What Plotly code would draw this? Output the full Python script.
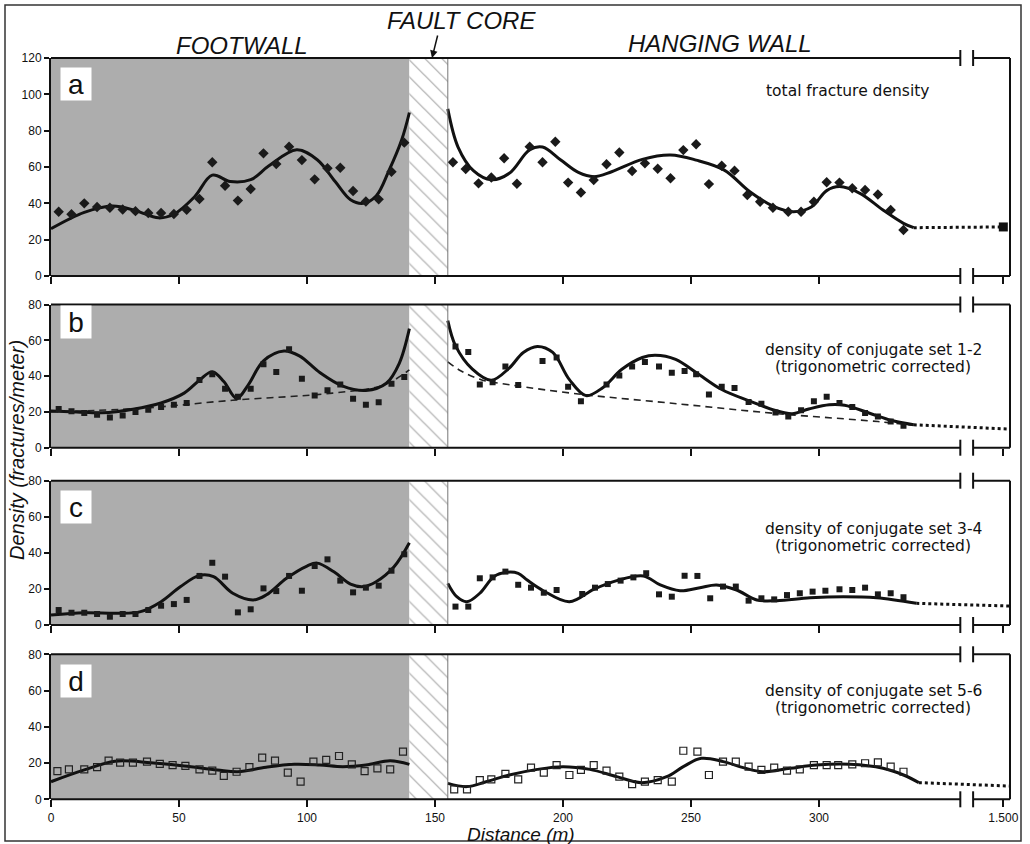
import plotly.graph_objects as go

W, H = 1030, 844
X0_PX, PX_PER_M, X_RIGHT_PX = 51, 2.56, 1010
FONT = "Liberation Sans, Arial, sans-serif"
LABEL_FONT = "DejaVu Sans, Verdana, sans-serif"

# ---------------- data ----------------
FAULT_CORE = [140, 155]          # m
AXIS_BREAK = [355.2, 360.2]      # m (position of the // break)
TICKVALS = [0, 50, 100, 150, 200, 250, 300, 372]
TICKTEXT = ["0", "50", "100", "150", "200", "250", "300", "1.500"]

# panel a: total fracture density
A_FW_PX = [3, 8, 13, 18, 23, 28, 33, 38, 43, 48, 53, 58, 63, 68, 73, 78, 83, 88, 93, 98, 103, 108, 113, 118, 123, 128, 133, 138]
A_FW_PY = [35.4, 34, 40, 38, 37.6, 36.6, 35.7, 34.7, 34.7, 34.1, 36.4, 42.4, 62.6, 49.7, 41.5, 47.9, 67.5, 61.6, 71.2, 63.8, 53.2, 59.3, 59.6, 46.8, 41, 42.2, 57.4, 73.4]
A_HW_PX = [157, 162, 167, 172, 177, 182, 187, 192, 197, 202, 207, 212, 217, 222, 227, 232, 237, 242, 247, 252, 257, 262, 267, 272, 277, 282, 288, 293, 298, 303, 308, 313, 318, 323, 328, 333]
A_HW_PY = [62.6, 58.9, 51, 54.2, 64.8, 50.8, 71.2, 62.6, 73.9, 51.4, 46, 52.8, 61.5, 68, 57.8, 62, 59, 53.8, 69.3, 72.5, 50.6, 60.7, 58, 44.6, 40.9, 37.6, 35.4, 35.4, 40.9, 51.6, 51.4, 48.3, 47.3, 44.9, 36.3, 25.3]
A_FW_CX = [0, 13, 24, 33, 42, 48, 56, 63, 70, 78, 85, 96, 104, 111, 117, 122, 127, 132, 137, 140]
A_FW_CY = [26, 35, 38.5, 36, 32, 34, 43.5, 55.5, 52, 53, 60.5, 69.5, 64, 52, 42, 40, 44, 58, 75, 90]
A_HW_CX = [155, 159, 165, 172, 179, 187, 192, 199, 206, 212, 219, 231, 242, 252, 263, 273, 282, 290, 297, 303, 308, 316, 325, 333, 337]
A_HW_CY = [92, 71, 58, 53, 56.5, 69.5, 71, 64, 57, 54.7, 57.4, 64.2, 66.6, 63.8, 58.3, 46.4, 38.5, 35.4, 38, 47, 49.2, 45.5, 36.3, 29, 26.6]
A_EXT_X = [337, 372]
A_EXT_Y = [26.6, 27]

# panel b: conjugate set 1-2
B_FW_PX = [3, 8, 13, 18, 23, 28, 33, 38, 43, 48, 53, 58, 63, 68, 73, 78, 83, 88, 93, 98, 103, 108, 113, 118, 123, 128, 133, 138]
B_FW_PY = [21.6, 20.3, 19.4, 18.4, 16.9, 18, 19.9, 21.2, 22.7, 24, 25, 37.8, 41, 32.9, 28.4, 33, 46.6, 42.3, 55, 38.5, 29.1, 32.1, 35.3, 27.3, 24, 25.4, 35.7, 39.5]
B_HW_PX = [158, 163, 167.5, 172.5, 177.5, 182.5, 192, 197.5, 202, 207, 217, 222, 227, 232, 237.5, 242.5, 247.5, 252, 257, 262, 267, 272.5, 277.5, 283, 288, 293, 298, 303, 308, 313, 318, 323, 328, 333]
B_HW_PY = [56.6, 53.5, 35.3, 36.6, 45.3, 35, 48.5, 50.4, 34, 25.9, 35.3, 40.4, 45.3, 47.9, 45.3, 41.9, 42.8, 41, 29.7, 34, 33.4, 25.5, 24.6, 19.7, 17.5, 20.9, 25.9, 28.4, 25, 22.8, 19.4, 17.5, 14.6, 12.2]
B_FW_CX = [0, 10, 20, 32, 43, 52, 58, 63, 67.5, 72.5, 77, 83, 91, 97, 105, 114, 123, 131, 136, 140]
B_FW_CY = [20.5, 20, 19.5, 21.5, 25, 30.5, 37.7, 42.5, 37, 27.5, 35, 48.5, 54, 51.3, 42, 34.4, 32, 36, 47, 66.5]
B_HW_CX = [155, 158, 164.5, 172, 179, 184.5, 190, 196, 202.5, 209, 215.5, 223, 231, 236, 244, 252, 262, 273, 283, 289.5, 296, 304, 310, 319.5, 328.5, 337]
B_HW_CY = [71, 57, 44, 37.7, 44.5, 53.2, 56.6, 53.2, 38, 29.1, 33.5, 43.8, 50.4, 51.7, 49.4, 42, 32.5, 26, 20.8, 19, 21.6, 24, 23.7, 19.4, 15.2, 12.8]
B_FW_TX = [0, 35, 71, 110, 130, 140]
B_FW_TY = [20, 22, 26.5, 30.5, 35, 43.5]
B_HW_TX = [155, 160, 168, 180, 206, 245, 284, 323, 337]
B_HW_TY = [48, 43, 38, 35, 30, 24.5, 19, 14.6, 12.5]
B_EXT_X = [337, 374.6]
B_EXT_Y = [12.8, 10.4]

# panel c: conjugate set 3-4
C_FW_PX = [3, 8, 13, 18, 23, 28, 33, 38, 43, 48, 53, 58, 63, 68, 73, 78, 83, 88, 93, 98, 103, 108, 113, 118, 123, 128, 133, 138]
C_FW_PY = [8.3, 6.8, 6.8, 6.1, 4.6, 6.1, 6.1, 8.3, 10.7, 11.6, 13.9, 27.2, 34.5, 26.8, 7, 8.7, 20.3, 18.8, 27.2, 19, 32.7, 36.4, 24.6, 18.1, 20.7, 21.8, 30.1, 39.2]
C_HW_PX = [158, 163, 167.5, 172.5, 177.5, 182.5, 187.5, 192.5, 197.5, 207.5, 212.5, 217.5, 222.5, 227.5, 232.5, 237.5, 242.5, 247.5, 252.5, 257.5, 262.5, 267.5, 272.5, 277.5, 282.5, 287.5, 292.5, 297.5, 302.5, 308, 313, 318, 323, 328, 333]
C_HW_PY = [10.2, 10.2, 25.9, 26.4, 29.6, 22.3, 20.7, 17.9, 19.4, 17.2, 20.7, 22.7, 24.6, 26.4, 28.7, 17, 15.7, 27.3, 27.2, 14.8, 21.3, 21.3, 13.5, 14.8, 14.2, 16.6, 17.6, 18.5, 19, 19.8, 19.4, 20.7, 17, 17.6, 15.4]
C_FW_CX = [0, 13, 26, 35, 43, 50.5, 58, 63.5, 71, 79, 84, 92, 100, 104, 110.5, 117, 122, 127, 134, 140]
C_FW_CY = [5.5, 6.8, 6.5, 7.4, 12.9, 21.2, 27.5, 26.8, 17.6, 13.9, 16.6, 25.9, 32.7, 34.3, 29.5, 22.7, 21.3, 24, 32.3, 45.6]
C_HW_CX = [155, 158.5, 162.5, 167.5, 173, 178, 182.5, 186, 192.3, 202.5, 212, 221, 231.4, 238, 245.7, 253.5, 260, 267.8, 275.7, 283.5, 296.5, 309.5, 322.5, 338]
C_HW_CY = [23.1, 15.7, 12.9, 17.6, 26.8, 29.2, 28.6, 24.9, 19, 12.9, 19.8, 24.6, 27.2, 22.2, 19, 20.7, 22.2, 19.4, 13.9, 13.5, 15.1, 15.7, 15.1, 12]
C_EXT_X = [338, 374.6]
C_EXT_Y = [12, 10.5]

# panel d: conjugate set 5-6
D_FW_PX = [2.5, 7, 13, 18, 22.5, 27, 32, 37.5, 42.5, 47.5, 52.5, 58, 63, 67.5, 72.5, 77.5, 82.5, 87.5, 92.5, 97.5, 102.5, 107.5, 112.5, 117.5, 122.5, 127.5, 132.5, 137.5]
D_FW_PY = [15.6, 16.5, 16.5, 17.7, 21.3, 20.2, 20.2, 20.8, 19.5, 18.9, 18.4, 16.5, 15.8, 12.9, 15.2, 17.7, 23, 21.3, 14.7, 9.7, 20.8, 21.7, 23.9, 19.3, 15.6, 17.1, 16.5, 26.3]
D_HW_PX = [157.5, 162.5, 167.5, 172, 177.5, 182.5, 187.5, 192.5, 197.5, 202.5, 207, 212, 217, 222, 227, 232, 237, 242.5, 247, 252.5, 257, 262.5, 267.5, 272.5, 277.5, 282.5, 287.5, 292.5, 298, 303, 307.5, 313, 318, 323, 328, 333]
D_HW_PY = [5.5, 5.5, 10.6, 11, 14, 11, 17.5, 14.7, 18.9, 13.4, 16.2, 18.9, 15.8, 12.5, 8.4, 9.7, 10.6, 9.7, 26.8, 26.3, 13.4, 20.8, 20.8, 18, 16.2, 17.5, 15.8, 16.5, 18.9, 18.9, 18.9, 19.3, 19.9, 20.4, 18, 15.2]
D_FW_CX = [0, 13, 25, 39, 52, 65, 73, 84, 95, 105, 114, 123, 132.5, 140]
D_FW_CY = [9.7, 16.2, 21, 20.2, 18.4, 16.2, 15.2, 17.7, 19.3, 18.9, 18, 18.9, 21.3, 19.3]
D_HW_CX = [155, 162.5, 170, 179, 190, 200, 210.5, 221, 230.7, 240.5, 247, 254, 262.6, 270.4, 278, 288.7, 299, 312, 325, 333, 339]
D_HW_CY = [8.8, 7, 9.7, 13.4, 16.5, 18, 16.5, 12.5, 9.2, 12.5, 18, 22.6, 20.8, 17.5, 15.2, 17.1, 18.9, 19.3, 17.1, 13.4, 9.2]
D_EXT_X = [339, 374.6]
D_EXT_Y = [9.2, 7.3]

PANEL_LETTERS = ["a", "b", "c", "d"]
PANEL_LABELS = [["total fracture density"],
                ["density of conjugate set 1-2", "(trigonometric corrected)"],
                ["density of conjugate set 3-4", "(trigonometric corrected)"],
                ["density of conjugate set 5-6", "(trigonometric corrected)"]]
Y_MAX = [120, 80, 80, 80]
Y_TICKS = [[0, 20, 40, 60, 80, 100, 120], [0, 20, 40, 60, 80], [0, 20, 40, 60, 80], [0, 20, 40, 60, 80]]

# ---------------- layout geometry (pixels) ----------------
PANEL_PX = [(58, 276), (304.5, 447.7), (480.7, 625), (654.3, 799.3)]
LETTER_PX = [(76, 84), (76, 322), (76, 507), (76, 681)]
LABEL_PX = [[(847, 91)], [(873, 350), (873, 367)], [(873, 529), (873, 546)], [(873, 691), (873, 708)]]

def fx(v):
    return (X0_PX + v * PX_PER_M) / W

def fy(ypx):
    return 1 - ypx / H

X_MAX = (X_RIGHT_PX - X0_PX) / PX_PER_M

panels = [
    dict(fw=(A_FW_PX, A_FW_PY), hw=(A_HW_PX, A_HW_PY), cfw=(A_FW_CX, A_FW_CY), chw=(A_HW_CX, A_HW_CY),
         ext=(A_EXT_X, A_EXT_Y), marker=dict(symbol="diamond", size=8, color="#1a1a1a")),
    dict(fw=(B_FW_PX, B_FW_PY), hw=(B_HW_PX, B_HW_PY), cfw=(B_FW_CX, B_FW_CY), chw=(B_HW_CX, B_HW_CY),
         ext=(B_EXT_X, B_EXT_Y), marker=dict(symbol="square", size=6, color="#1a1a1a"),
         trend=[(B_FW_TX, B_FW_TY), (B_HW_TX, B_HW_TY)]),
    dict(fw=(C_FW_PX, C_FW_PY), hw=(C_HW_PX, C_HW_PY), cfw=(C_FW_CX, C_FW_CY), chw=(C_HW_CX, C_HW_CY),
         ext=(C_EXT_X, C_EXT_Y), marker=dict(symbol="square", size=6, color="#1a1a1a")),
    dict(fw=(D_FW_PX, D_FW_PY), hw=(D_HW_PX, D_HW_PY), cfw=(D_FW_CX, D_FW_CY), chw=(D_HW_CX, D_HW_CY),
         ext=(D_EXT_X, D_EXT_Y), marker=dict(symbol="square-open", size=7, color="#222", line=dict(width=1.2, color="#222"))),
]

fig = go.Figure()
shapes, annotations = [], []
layout = {}

def text_ann(x_px, y_px, text, size, family=FONT, **kw):
    d = dict(xref="paper", yref="paper", x=x_px / W, y=fy(y_px), text=text, showarrow=False,
             xanchor="center", yanchor="middle", font=dict(family=family, size=size, color="#111"))
    d.update(kw)
    return d

for k, p in enumerate(panels):
    sfx = "" if k == 0 else str(k + 1)
    xa, ya = "x" + sfx, "y" + sfx
    top, bot = PANEL_PX[k]
    ymax = Y_MAX[k]

    # fault core hatch
    fig.add_trace(go.Bar(x=[(FAULT_CORE[0] + FAULT_CORE[1]) / 2], y=[ymax], base=0,
                         width=[FAULT_CORE[1] - FAULT_CORE[0]], xaxis=xa, yaxis=ya,
                         marker=dict(color="white", line=dict(width=0),
                                     pattern=dict(shape="\\", fgcolor="#555", bgcolor="white", size=12, solidity=0.1)),
                         showlegend=False, hoverinfo="skip"))
    # trend (dashed) lines
    for tx, ty in p.get("trend", []):
        fig.add_trace(go.Scatter(x=tx, y=ty, mode="lines", xaxis=xa, yaxis=ya, showlegend=False,
                                 line=dict(color="#222", width=1.6, dash="7px,5px", shape="spline", smoothing=1.0)))
    # fitted curves
    for cx, cy in (p["cfw"], p["chw"]):
        fig.add_trace(go.Scatter(x=cx, y=cy, mode="lines", xaxis=xa, yaxis=ya, showlegend=False,
                                 line=dict(color="#111", width=3, shape="spline", smoothing=1.0)))
    # dotted extension
    fig.add_trace(go.Scatter(x=p["ext"][0], y=p["ext"][1], mode="lines", xaxis=xa, yaxis=ya, showlegend=False,
                             line=dict(color="#111", width=3, dash="dot")))
    if k == 0:
        fig.add_trace(go.Scatter(x=[p["ext"][0][-1]], y=[p["ext"][1][-1]], mode="markers", xaxis=xa, yaxis=ya,
                                 showlegend=False, marker=dict(symbol="square", size=9, color="#111")))
    # measured points
    for px_, py_ in (p["fw"], p["hw"]):
        fig.add_trace(go.Scatter(x=px_, y=py_, mode="markers", xaxis=xa, yaxis=ya, showlegend=False,
                                 marker=p["marker"]))

    layout["xaxis" + sfx] = dict(domain=[X0_PX / W, X_RIGHT_PX / W], range=[0, X_MAX], anchor=ya,
                                 showline=False, showgrid=False, zeroline=False, automargin=False,
                                 ticks="outside", ticklen=7, tickwidth=1.5, tickcolor="#111",
                                 tickvals=TICKVALS, ticktext=TICKTEXT, showticklabels=(k == 3),
                                 tickfont=dict(family=FONT, size=12, color="#111"))
    layout["yaxis" + sfx] = dict(domain=[fy(bot), fy(top)], range=[0, ymax], anchor=xa,
                                 showline=True, linecolor="#111", linewidth=2, showgrid=False, zeroline=False,
                                 automargin=False,
                                 ticks="outside", ticklen=5, tickwidth=1.5, tickcolor="#111",
                                 tickvals=Y_TICKS[k], tickfont=dict(family=FONT, size=12, color="#111"))

    # footwall shading
    shapes.append(dict(type="rect", xref=xa, yref=ya + " domain", x0=0, x1=FAULT_CORE[0], y0=0, y1=1,
                       fillcolor="#adadad", line=dict(width=0), layer="below"))
    shapes.append(dict(type="line", xref=xa, yref=ya + " domain", x0=FAULT_CORE[1], x1=FAULT_CORE[1], y0=0, y1=1,
                       line=dict(color="#777", width=1)))
    # frame with axis break
    for ypx in (top, bot):
        shapes.append(dict(type="line", xref="paper", yref="paper", x0=fx(0), x1=fx(AXIS_BREAK[0]),
                           y0=fy(ypx), y1=fy(ypx), line=dict(color="#111", width=2)))
        shapes.append(dict(type="line", xref="paper", yref="paper", x0=fx(AXIS_BREAK[1]), x1=X_RIGHT_PX / W,
                           y0=fy(ypx), y1=fy(ypx), line=dict(color="#111", width=2)))
        for b in AXIS_BREAK:
            shapes.append(dict(type="line", xref="paper", yref="paper", x0=fx(b), x1=fx(b),
                               y0=fy(ypx - 8), y1=fy(ypx + 8), line=dict(color="#111", width=2)))
    shapes.append(dict(type="line", xref="paper", yref="paper", x0=X_RIGHT_PX / W, x1=X_RIGHT_PX / W,
                       y0=fy(bot), y1=fy(top), line=dict(color="#111", width=2)))

    # panel letter
    lx, ly = LETTER_PX[k]
    annotations.append(text_ann(lx, ly, PANEL_LETTERS[k], 28, bgcolor="white", width=28, height=30))
    for txt, (tx, ty) in zip(PANEL_LABELS[k], LABEL_PX[k]):
        annotations.append(text_ann(tx, ty, txt, 15.5, family=LABEL_FONT, borderpad=0))

# outer frame
shapes.append(dict(type="rect", xref="paper", yref="paper", x0=5 / W, x1=1021 / W, y0=fy(841), y1=fy(5),
                   line=dict(color="#333", width=1.5)))

# titles
for txt, (tx, ty) in [("FOOTWALL", (242, 45)), ("FAULT CORE", (461, 21)), ("HANGING WALL", (720, 44))]:
    annotations.append(text_ann(tx, ty, "<i>%s</i>" % txt, 24))
annotations.append(dict(xref="paper", yref="paper", x=432 / W, y=fy(58), ax=6, ay=-24, text="",
                        showarrow=True, arrowhead=2, arrowsize=1, arrowwidth=1.5, arrowcolor="#111"))
annotations.append(text_ann(521, 834.5, "<i>Distance (m)</i>", 19, borderpad=0))
annotations.append(text_ann(17, 450, "<i>Density (fractures/meter)</i>", 20, textangle=-90))

fig.update_layout(width=W, height=H, margin=dict(l=0, r=0, t=0, b=0, pad=0, autoexpand=False),
                  paper_bgcolor="white", plot_bgcolor="white", barmode="overlay", showlegend=False,
                  shapes=shapes, annotations=annotations, **layout)

fig.write_html("out.html", config={"displayModeBar": False},
               post_script="document.body.style.margin='0';document.body.style.padding='0';"
                           "document.documentElement.style.overflow='hidden';")
